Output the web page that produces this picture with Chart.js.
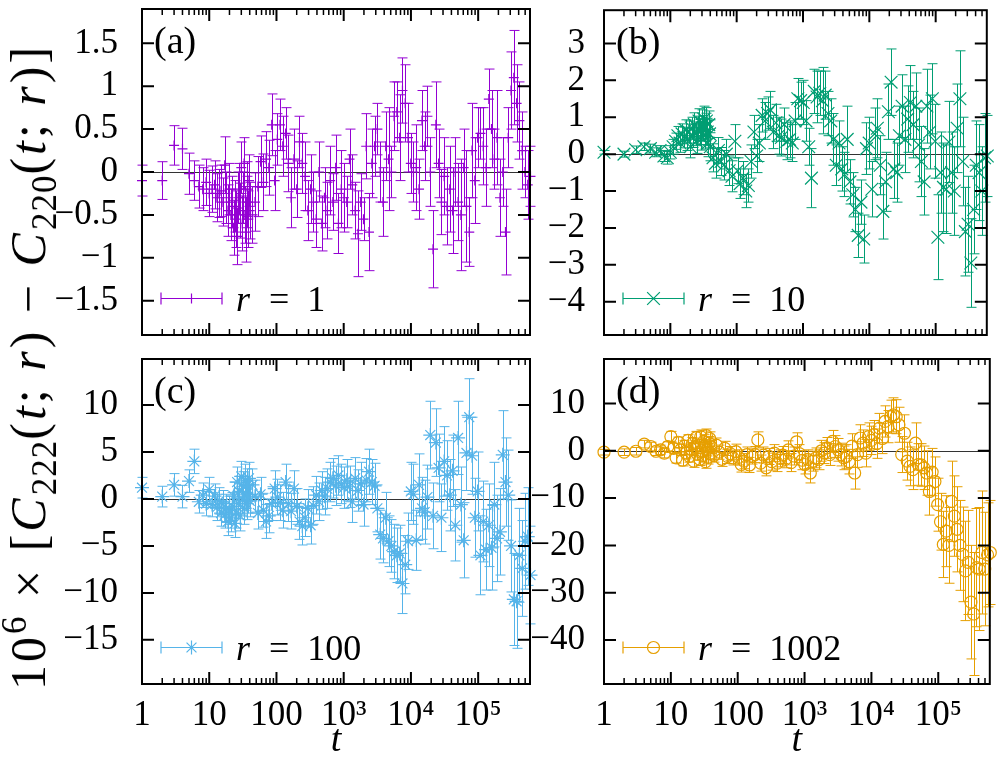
<!DOCTYPE html>
<html>
<head>
<meta charset="utf-8">
<script src="https://cdn.jsdelivr.net/npm/chart.js@4.4.1/dist/chart.umd.min.js"></script>
<style>
  body { margin: 0; background: #fff; width: 997px; height: 764px; position: relative; overflow: hidden;
         font-family: "Liberation Serif", serif; }
  canvas { position: absolute; left: 0; top: 0; }
  #ytitle { position: absolute; left: 28px; top: 367px; transform: translate(-50%, -50%) rotate(-90deg);
            white-space: nowrap; font-size: 50px; letter-spacing: 3px; color: #000; }
  #ytitle sub { font-size: 70%; vertical-align: -0.3em; line-height: 0; letter-spacing: 1px; }
  #ytitle sup { font-size: 70%; vertical-align: 0.55em; line-height: 0; }
</style>
</head>
<body>
<canvas id="pa" width="997" height="764"></canvas>
<canvas id="pb" width="997" height="764"></canvas>
<canvas id="pc" width="997" height="764"></canvas>
<canvas id="pd" width="997" height="764"></canvas>
<div id="ytitle">10<sup>6</sup> × [<i>C</i><sub>222</sub>(<i>t</i>; <i>r</i>) − <i>C</i><sub>220</sub>(<i>t</i>; <i>r</i>)]</div>
<script>
// shared time grid (same t for all four r)
const times = [1, 2, 3, 4, 5, 6, 7, 8, 9, 10,
  11, 12, 13, 14, 15, 16, 17, 18, 19, 20, 21, 22, 23, 24, 25, 26, 27, 28, 29, 30,
  31, 32, 33, 34, 35, 36, 37, 38, 39, 40,
  44, 48, 53, 58, 64, 70, 77, 85, 94,
  103, 113, 124, 137, 150, 165, 182, 200, 220, 242, 266, 293, 322, 354, 390, 429, 472, 519, 571, 628, 690, 760, 835, 920,
  1010, 1110, 1220, 1340, 1480, 1630, 1790, 1970, 2160, 2380, 2620, 2880, 3170, 3490, 3840, 4220, 4640, 5110, 5620, 6180, 6800, 7480, 8230, 9050, 9950,
  10900, 12000, 13200, 14600, 16000, 17600, 19400, 21300, 23500, 25800, 28400, 31200, 34400, 37800, 41600, 45700, 50300, 55300, 60900, 67000, 73700, 81000, 89100, 98000,
  108000, 119000, 131000, 144000, 158000, 174000, 191000, 211000, 232000, 255000, 280000, 308000, 339000, 373000, 410000, 451000, 496000, 546000, 600000]

const xTickVals = [1, 10, 100, 1e3, 1e4, 1e5]
const xTickLabels = ['1', '10', '100', '10³', '10⁴', '10⁵']

// (a) r = 1
const yA = [-0.10, -0.10, 0.31, 0.27, -0.02, -0.10, -0.17, -0.20, -0.12, -0.25,
  -0.20, -0.15, -0.30, -0.25, -0.22, -0.35, 0.08, -0.30, -0.45, -0.20, -0.50, -0.35, -0.65, -0.40, -0.55, -0.75, -0.30, -0.20, -0.45, 0.05,
  -0.60, -0.30, 0.10, -0.50, -0.70, -0.35, -0.20, -0.55, -0.10, -0.45,
  -0.50, -0.35, -0.17, 0.12, -0.12, 0.15, 0.05, 0.55, -0.10,
  0.38, 0.55, 0.30, 0.45, 0.10, -0.30, 0.15, -0.20, 0.35, 0.10, -0.05, -0.45, -0.20, -0.35, -0.55, 0.00, -0.60, -0.30, -0.45, -0.10, -0.35, 0.05, -0.60, -0.20,
  -0.30, -0.35, 0.15, -0.15, -0.45, -0.72, -0.35, -0.55, 0.30, -0.70, 0.10, 0.30, 0.50, 0.00, -0.35, 0.30, 0.15, 0.00, 0.65, 0.70, 0.40, 0.95, 0.80, 0.40, 0.10,
  0.00, 0.05, -0.20, 0.60, 0.30, 0.65, 0.00, -0.90, 0.55, 0.10, -0.35, -0.05, -0.40, -0.20, -0.45, 0.00, -0.35, -0.50, 0.05, -0.40, -0.70, 0.25, -0.10, 0.40,
  0.45, 0.30, 0.05, 0.85, 0.50, 0.15, 0.40, -0.30, 0.00, -0.70, 0.40, 0.95, 1.10, 0.80, 0.60, 0.25, 0.00, -0.15, -0.05]
const eA = [0.18, 0.22, 0.23, 0.24, 0.24, 0.23, 0.25, 0.25, 0.27, 0.27,
  0.27, 0.28, 0.28, 0.28, 0.30, 0.28, 0.33, 0.30, 0.30, 0.30, 0.30, 0.30, 0.32, 0.30, 0.33, 0.33, 0.30, 0.30, 0.32, 0.30,
  0.32, 0.30, 0.30, 0.33, 0.35, 0.30, 0.32, 0.33, 0.30, 0.33,
  0.33, 0.34, 0.35, 0.30, 0.33, 0.32, 0.32, 0.36, 0.35,
  0.30, 0.30, 0.35, 0.30, 0.33, 0.35, 0.35, 0.33, 0.30, 0.35, 0.40, 0.35, 0.40, 0.35, 0.33, 0.35, 0.32, 0.35, 0.33, 0.40, 0.33, 0.38, 0.35, 0.45,
  0.40, 0.30, 0.35, 0.35, 0.33, 0.50, 0.33, 0.25, 0.38, 0.45, 0.40, 0.35, 0.30, 0.35, 0.40, 0.40, 0.60, 0.30, 0.40, 0.35, 0.50, 0.38, 0.45, 0.40, 0.35,
  0.35, 0.50, 0.35, 0.35, 0.40, 0.35, 0.40, 0.45, 0.50, 0.40, 0.38, 0.45, 0.45, 0.50, 0.50, 0.40, 0.45, 0.65, 0.45, 0.65, 0.40, 0.55, 0.50, 0.35,
  0.30, 0.45, 0.45, 0.35, 0.45, 0.35, 0.55, 0.45, 0.40, 0.50, 0.35, 0.45, 0.55, 0.45, 0.45, 0.45, 0.30, 0.40, 0.35]

// (b) r = 10
const yB = [0.05, 0.00, 0.12, 0.20, 0.15, 0.05, 0.10, -0.05, -0.10, 0.05,
  0.20, 0.35, 0.50, 0.30, 0.55, 0.45, 0.65, 0.40, 0.60, 0.20, 0.70, 0.50, 0.80, 0.55, 0.35, 0.70, 0.90, 0.60, 0.45, 0.85,
  0.70, 0.95, 0.50, 0.75, 0.90, 0.60, 0.30, 0.80, 0.55, 0.20,
  -0.10, -0.25, 0.10, -0.20, -0.30, 0.00, -0.45, -0.60, 0.35,
  -0.45, -0.80, -0.65, -1.00, -0.85, -0.20, 0.60, -0.05, 0.30, 1.05, 0.90, 1.10, 1.20, 0.60, 0.85, 0.50, 0.45, 0.80, 0.35, 0.40, 0.30, 0.90, 1.50, 1.45,
  1.40, 0.90, 0.20, -0.65, 1.70, 1.55, 1.65, 1.45, 1.60, 1.10, 0.90, 0.40, -0.30, 0.30, -0.40, -0.55, 0.40, -0.75, -1.10, -1.50, -2.20, -1.30, -2.30, 0.15, 0.30,
  -0.95, 0.55, 0.70, -0.30, -1.55, -0.75, 1.15, 1.95, -0.40, -0.50, 0.50, 1.30, 0.40, 0.95, 1.40, 0.80, 1.30, 0.25, -0.20, -0.75, 1.30, 0.60, 1.50, 0.35,
  -2.25, -0.50, -0.90, -0.95, 0.33, -0.50, -1.00, 0.70, 1.50, -0.20, -2.10, -1.90, -2.95, -1.50, -0.30, -0.50, -1.00, -0.10, -0.05]
const eB = [0.05, 0.08, 0.10, 0.10, 0.12, 0.12, 0.13, 0.15, 0.17, 0.18,
  0.20, 0.22, 0.25, 0.25, 0.27, 0.28, 0.28, 0.30, 0.30, 0.30, 0.30, 0.32, 0.32, 0.32, 0.33, 0.33, 0.33, 0.34, 0.34, 0.35,
  0.35, 0.35, 0.36, 0.36, 0.36, 0.37, 0.37, 0.37, 0.38, 0.38,
  0.38, 0.40, 0.35, 0.38, 0.40, 0.40, 0.40, 0.42, 0.45,
  0.35, 0.40, 0.45, 0.45, 0.45, 0.45, 0.45, 0.45, 0.50, 0.45, 0.50, 0.45, 0.50, 0.45, 0.50, 0.50, 0.50, 0.45, 0.50, 0.50, 0.50, 0.50, 0.55, 0.50,
  0.60, 0.55, 0.50, 0.80, 0.60, 0.70, 0.60, 0.90, 0.65, 0.60, 0.60, 0.70, 0.55, 0.60, 0.60, 0.60, 0.90, 0.60, 0.60, 0.60, 0.60, 0.60, 0.65, 0.70, 0.70,
  0.75, 0.70, 0.80, 0.80, 0.75, 0.80, 0.75, 0.90, 0.80, 0.80, 0.80, 0.85, 0.90, 0.90, 1.00, 0.90, 0.90, 1.00, 0.95, 0.90, 1.00, 1.00, 0.95, 1.00,
  1.15, 1.10, 1.20, 1.20, 1.10, 1.10, 1.20, 1.20, 1.30, 1.20, 1.20, 1.30, 1.20, 1.20, 1.20, 1.30, 1.20, 1.20, 1.10]

// (c) r = 100
const yC = [1.2, 0.25, 1.5, 0.25, 1.9, 4.0, -0.3, 0.4, -0.5, 1.0,
  -0.6, 0.3, -0.9, -0.2, -1.5, -0.5, -1.7, -1.0, -2.4, -1.2, -2.0, -0.8, 0.3, -2.6, -1.5, 1.8, -0.5, 0.8, -1.8, 2.4,
  0.0, 1.3, -1.0, 2.0, 0.5, -0.5, 1.5, 0.2, 2.2, -0.2,
  1.5, 0.3, -1.5, 0.5, -1.2, -2.4, -1.8, -0.5, 1.1,
  0.2, -0.4, -1.2, 1.8, -0.5, -1.3, 1.1, -0.8, -2.4, -2.9, -2.0, -1.0, -2.8, -0.7, 0.4, -0.3, 0.9, 0.3, 1.1, 1.8, 2.2, 1.4, 2.5, 1.6,
  1.2, 2.0, 1.3, -0.3, 2.2, 0.9, 1.6, -0.6, 2.0, 2.9, 1.8, 1.4, -1.0, -3.8, -4.2, -2.0, -4.5, -5.0, -5.6, -6.0, -5.8, -9.0, -7.0, -4.5, 0.8,
  0.5, -4.4, 1.5, -1.0, -1.4, 0.2, 6.8, -1.8, 6.0, 3.3, -2.0, 4.0, 2.5, 0.4, 3.0, -2.8, 6.5, -0.6, -4.4, 4.9, 8.7, 4.6, -2.0, 0.8,
  -6.0, -2.4, -5.4, -2.8, -5.2, -0.6, -4.2, -3.5, 4.7, 1.8, 0.4, -5.0, -10.7, -10.9, -6.0, -7.4, -4.5, -4.0, -8.1]
const eC = [1.1, 1.1, 1.2, 1.2, 1.2, 1.3, 1.2, 1.3, 1.3, 1.3,
  1.3, 1.3, 1.4, 1.4, 1.4, 1.4, 1.4, 1.5, 1.5, 1.5, 1.5, 1.5, 1.5, 1.5, 1.6, 1.6, 1.6, 1.6, 1.6, 1.6,
  1.6, 1.6, 1.7, 1.7, 1.7, 1.7, 1.7, 1.7, 1.7, 1.7,
  1.7, 1.7, 1.7, 1.8, 1.8, 1.8, 1.8, 1.8, 1.9,
  1.9, 1.9, 1.9, 1.9, 1.9, 1.9, 1.9, 1.9, 1.9, 2.0, 2.0, 2.0, 2.0, 2.0, 2.0, 2.0, 2.0, 2.0, 2.1, 2.1, 2.1, 2.1, 2.1, 2.1,
  2.2, 2.2, 2.2, 2.2, 2.2, 2.2, 2.3, 2.3, 2.3, 2.4, 2.4, 2.4, 2.5, 2.6, 2.6, 2.7, 2.7, 2.8, 2.9, 2.9, 3.0, 3.2, 3.1, 3.0, 3.1,
  3.2, 3.2, 3.3, 3.3, 3.4, 3.4, 3.6, 3.5, 3.6, 3.6, 3.6, 3.7, 3.7, 3.8, 3.8, 3.8, 3.9, 4.0, 4.0, 4.0, 4.1, 4.1, 4.2, 4.2,
  4.2, 4.3, 4.3, 4.4, 4.5, 4.5, 4.6, 4.6, 4.7, 4.7, 4.8, 4.9, 4.9, 5.0, 5.0, 5.1, 5.1, 5.2, 5.2]

// (d) r = 1002
const yD = [-0.3, -0.3, -0.1, 1.4, 0.9, -0.1, 0.2, -0.5, 0.9, 3.0,
  0.5, -1.5, 1.8, 0.2, -2.0, 1.0, -0.5, 2.2, -1.2, 0.4, 1.5, -2.2, 0.8, 2.8, -0.7, 1.2, -1.8, 3.0, 0.0, -1.0,
  2.0, 1.0, -2.3, 3.2, 0.3, -1.4, 1.6, 2.6, -0.5, 0.8,
  -1.0, 1.2, -0.3, -1.8, 0.5, -1.2, -0.6, -1.5, -0.2,
  -1.4, -2.9, -2.2, -0.8, -3.0, -1.2, -0.8, 2.3, -2.6, -0.9, -3.6, -1.2, -2.3, -0.5, -2.6, -1.6, -0.9, -1.8, 0.2, -2.5, -1.1, 1.9, -0.6, -2.0,
  -2.9, -1.8, -4.7, -2.2, -1.5, -1.9, 0.0, -0.5, 0.6, -0.8, 2.0, 0.9, 0.2, -0.8, -1.5, -1.2, -2.3, 1.0, -4.7, -0.8, 2.7, 1.6, -0.5, 3.0, 2.2,
  3.4, 1.5, 4.8, 2.6, 6.2, 5.1, 7.2, 7.6, 7.2, 5.5, -0.8, 3.7, -2.2, -3.3, -4.0, 1.6, -2.9, -3.0, -3.6, -4.7, -8.6, -4.5, -6.5, -11.4,
  -15.0, -19.8, -17.0, -20.0, -10.7, -13.8, -16.6, -20.0, -21.9, -25.4, -23.6, -32.0, -34.5, -24.7, -25.0, -21.5, -25.0, -22.0, -21.5]
const eD = [0.6, 0.7, 0.8, 0.8, 0.9, 0.9, 1.0, 1.0, 1.0, 1.1,
  1.1, 1.1, 1.1, 1.2, 1.2, 1.2, 1.2, 1.2, 1.2, 1.3, 1.3, 1.3, 1.3, 1.3, 1.3, 1.3, 1.3, 1.4, 1.4, 1.4,
  1.4, 1.4, 1.4, 1.4, 1.4, 1.4, 1.4, 1.4, 1.4, 1.4,
  1.4, 1.5, 1.5, 1.5, 1.5, 1.5, 1.5, 1.5, 1.6,
  1.6, 1.6, 1.6, 1.6, 1.6, 1.6, 1.7, 1.7, 1.7, 1.7, 1.7, 1.7, 1.8, 1.8, 1.8, 1.8, 1.8, 1.8, 1.9, 1.9, 1.9, 1.9, 1.9, 2.0,
  2.0, 2.0, 2.1, 2.1, 2.1, 2.1, 2.2, 2.2, 2.2, 2.3, 2.3, 2.3, 2.4, 2.4, 2.5, 2.5, 2.6, 2.6, 3.4, 2.7, 2.8, 2.8, 2.9, 2.9, 3.0,
  3.0, 3.1, 3.1, 3.2, 3.3, 3.4, 3.5, 3.6, 3.6, 3.7, 3.8, 3.9, 4.0, 4.1, 4.2, 4.3, 4.4, 4.5, 4.6, 4.7, 5.0, 5.0, 5.2, 5.6,
  6.0, 7.0, 7.5, 8.0, 8.5, 8.5, 9.0, 9.5, 10.0, 10.5, 11.0, 12.0, 13.0, 12.5, 13.0, 13.0, 12.0, 11.0, 11.0]

const yTicksA = [-1.5, -1, -0.5, 0, 0.5, 1, 1.5]
const yTicksB = [-4, -3, -2, -1, 0, 1, 2, 3]
const yTicksC = [-15, -10, -5, 0, 5, 10]
const yTicksD = [-40, -30, -20, -10, 0, 10]

const FONT = '"Liberation Serif", serif'
Chart.defaults.font.family = FONT
Chart.defaults.font.size = 35
Chart.defaults.color = '#000'

const tMax = 5.9e5
const minus = v => v < 0 ? '−' + Math.abs(v) : String(v)

function drawMark(ctx, kind, x, y, r) {
  ctx.beginPath()
  if (kind === 'cross' || kind === 'star') {
    ctx.moveTo(x - r, y); ctx.lineTo(x + r, y)
    ctx.moveTo(x, y - r); ctx.lineTo(x, y + r)
  }
  if (kind === 'crossRot' || kind === 'star') {
    const d = r * Math.SQRT1_2
    ctx.moveTo(x - d, y - d); ctx.lineTo(x + d, y + d)
    ctx.moveTo(x - d, y + d); ctx.lineTo(x + d, y - d)
  }
  if (kind === 'circle') ctx.arc(x, y, r, 0, Math.PI * 2)
  ctx.stroke()
}

// error bars, zero line, frame, inward ticks, legend and panel tag
function decor(p) {
  return {
    id: 'decor',
    beforeDatasetsDraw(chart) {
      const { ctx, chartArea: a, scales: { x, y } } = chart
      ctx.save()
      const y0 = Math.round(y.getPixelForValue(0)) + 0.5
      ctx.strokeStyle = '#333'
      ctx.lineWidth = 1.2
      ctx.beginPath(); ctx.moveTo(a.left, y0); ctx.lineTo(a.right, y0); ctx.stroke()

      ctx.beginPath()
      ctx.rect(a.left - 14, a.top, a.right - a.left + 28, a.bottom - a.top)
      ctx.clip()
      ctx.strokeStyle = p.color
      ctx.lineWidth = 1
      ctx.beginPath()
      p.ys.forEach((v, i) => {
        const px = Math.round(x.getPixelForValue(times[i])) + 0.5
        const lo = y.getPixelForValue(v - p.err[i])
        const hi = y.getPixelForValue(v + p.err[i])
        ctx.moveTo(px, lo); ctx.lineTo(px, hi)
        ctx.moveTo(px - 5, lo); ctx.lineTo(px + 5, lo)
        ctx.moveTo(px - 5, hi); ctx.lineTo(px + 5, hi)
      })
      ctx.stroke()
      ctx.restore()
    },
    afterDatasetsDraw(chart) {
      const { ctx, chartArea: a, scales: { x, y } } = chart
      ctx.save()
      ctx.strokeStyle = '#000'
      ctx.lineWidth = 2
      ctx.strokeRect(a.left, a.top, a.right - a.left, a.bottom - a.top)

      ctx.beginPath()
      xTickVals.forEach(t => {
        const px = x.getPixelForValue(t)
        ctx.moveTo(px, a.top); ctx.lineTo(px, a.top + 12)
        ctx.moveTo(px, a.bottom); ctx.lineTo(px, a.bottom - 12)
      })
      p.yTicks.forEach(v => {
        const py = y.getPixelForValue(v)
        ctx.moveTo(a.left, py); ctx.lineTo(a.left + 12, py)
        ctx.moveTo(a.right, py); ctx.lineTo(a.right - 12, py)
      })
      ctx.stroke()
      ctx.lineWidth = 1.5
      ctx.beginPath()
      xTickVals.forEach(t => {
        for (let k = 2; k <= 9; k++) {
          if (t * k > tMax) break
          const px = x.getPixelForValue(t * k)
          ctx.moveTo(px, a.top); ctx.lineTo(px, a.top + 6)
          ctx.moveTo(px, a.bottom); ctx.lineTo(px, a.bottom - 6)
        }
      })
      ctx.stroke()

      // legend sample
      const ly = a.bottom - 36.5, lx0 = a.left + 19, lx1 = a.left + 80
      ctx.strokeStyle = p.color
      ctx.lineWidth = 1.2
      ctx.beginPath()
      ctx.moveTo(lx0, ly); ctx.lineTo(lx1, ly)
      ctx.moveTo(lx0, ly - 6); ctx.lineTo(lx0, ly + 6)
      ctx.moveTo(lx1, ly - 6); ctx.lineTo(lx1, ly + 6)
      ctx.stroke()
      drawMark(ctx, p.marker, (lx0 + lx1) / 2, ly, p.radius)

      ctx.fillStyle = '#000'
      ctx.textBaseline = 'alphabetic'
      ctx.textAlign = 'left'
      ctx.font = 'italic 36px ' + FONT
      const tx = a.left + 94, ty = ly + 12
      ctx.fillText('r', tx, ty)
      const rw = ctx.measureText('r').width
      ctx.font = '36px ' + FONT
      ctx.fillText('\u2002=\u2002' + p.r, tx + rw + 1, ty)

      ctx.font = '38px ' + FONT
      ctx.fillText(p.tag, a.left + 12, a.top + 44)
      ctx.restore()
    }
  }
}

function makePanel(id, p) {
  return new Chart(document.getElementById(id), {
    type: 'scatter',
    data: {
      datasets: [{
        data: p.ys.map((v, i) => ({ x: times[i], y: v })),
        pointStyle: p.marker,
        pointRadius: p.radius,
        borderColor: p.color,
        backgroundColor: 'rgba(0,0,0,0)',
        borderWidth: 1.2,
        clip: { left: 14, right: 14, top: 2, bottom: 2 }
      }]
    },
    options: {
      responsive: false,
      animation: false,
      events: [],
      layout: { padding: { left: 0, top: p.box.top, right: 997 - p.box.right, bottom: 0 } },
      plugins: { legend: { display: false }, tooltip: { enabled: false } },
      scales: {
        x: {
          type: 'logarithmic', min: 1, max: tMax,
          afterBuildTicks: s => { s.ticks = xTickVals.map(v => ({ value: v })) },
          afterFit: s => { s.height = 764 - p.box.bottom; s.paddingLeft = 0; s.paddingRight = 0 },
          grid: { display: false, drawTicks: false },
          border: { display: false },
          ticks: {
            display: p.showX, padding: 11, autoSkip: false, maxRotation: 0,
            callback: v => xTickLabels[xTickVals.indexOf(v)]
          },
          title: {
            display: p.showX, text: 't',
            font: { style: 'italic', size: 38 },
            padding: { top: 0, bottom: 0 }
          }
        },
        y: {
          min: p.min, max: p.max,
          afterBuildTicks: s => { s.ticks = p.yTicks.map(v => ({ value: v })) },
          afterFit: s => { s.width = p.box.left; s.paddingTop = 0; s.paddingBottom = 0 },
          grid: { display: false, drawTicks: false },
          border: { display: false },
          ticks: { padding: p.labelPad, autoSkip: false, callback: v => minus(v) }
        }
      }
    },
    plugins: [decor(p)]
  })
}

makePanel('pa', { ys: yA, err: eA, color: '#9400D3', marker: 'cross', radius: 5, r: '1', tag: '(a)',
  min: -1.9, max: 1.9, yTicks: yTicksA, labelPad: 24, showX: false,
  box: { left: 142, right: 530, top: 9, bottom: 335 } })
makePanel('pb', { ys: yB, err: eB, color: '#009E73', marker: 'crossRot', radius: 9, r: '10', tag: '(b)',
  min: -4.9, max: 3.9, yTicks: yTicksB, labelPad: 19, showX: false,
  box: { left: 604, right: 992, top: 9, bottom: 335 } })
makePanel('pc', { ys: yC, err: eC, color: '#56B4E9', marker: 'star', radius: 7, r: '100', tag: '(c)',
  min: -19.7, max: 14.9, yTicks: yTicksC, labelPad: 24, showX: true,
  box: { left: 142, right: 530, top: 359, bottom: 684 } })
makePanel('pd', { ys: yD, err: eD, color: '#E69F00', marker: 'circle', radius: 6, r: '1002', tag: '(d)',
  min: -49.3, max: 19.4, yTicks: yTicksD, labelPad: 19, showX: true,
  box: { left: 604, right: 992, top: 359, bottom: 684 } })
</script>
</body>
</html>
